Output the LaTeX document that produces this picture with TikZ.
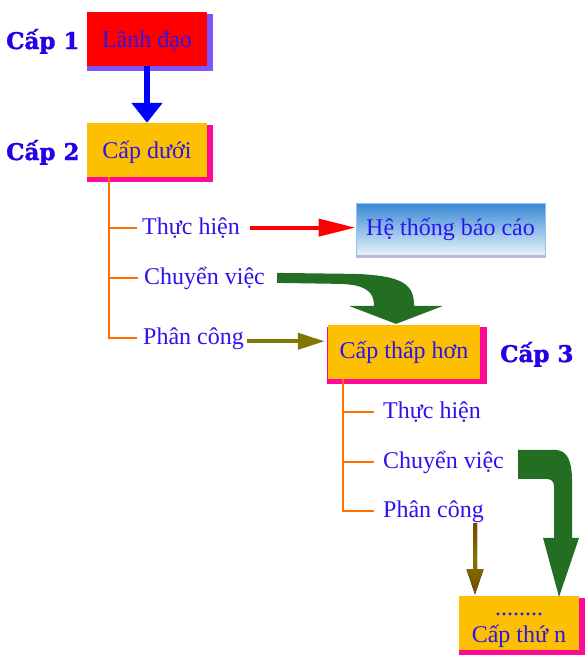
\documentclass[tikz,border=0pt]{standalone}
\usepackage{fontspec}
\setmainfont{Liberation Serif}
\newfontfamily\capfont[BoldFeatures={FakeBold=1.5}]{DejaVu Serif}
\usetikzlibrary{shadows,arrows.meta}
\definecolor{txtblue}{RGB}{45,20,235}
\definecolor{lvlblue}{RGB}{40,0,230}
\definecolor{boxyellow}{RGB}{252,192,0}
\definecolor{shadowmag}{RGB}{255,10,150}
\definecolor{shadowpur}{RGB}{125,85,255}
\definecolor{treeorange}{RGB}{255,110,0}
\definecolor{darkgreen}{RGB}{35,110,35}
\definecolor{olivearrow}{RGB}{128,120,0}
\definecolor{brownarrow}{RGB}{120,70,0}
\definecolor{repTop}{RGB}{55,135,212}
\definecolor{repBot}{RGB}{235,245,252}
\definecolor{repEdge}{RGB}{150,195,235}
\definecolor{lavender}{RGB}{195,178,225}
\begin{document}
\begin{tikzpicture}[x=1pt,y=-1pt,
  box/.style={rectangle, minimum width=120pt, minimum height=54pt, inner sep=0pt,
    text=txtblue, font=\fontsize{24}{27}\selectfont},
  oneline/.style={text height=17pt, text depth=5pt},
  lowline/.style={text height=20pt, text depth=4pt},
  yellowbox/.style={box, fill=boxyellow,
    drop shadow={shadow xshift=3pt, shadow yshift=-3.5pt, shadow scale=1.05,
      fill=shadowmag, opacity=1, rounded corners=2pt}},
  repbox/.style={box, oneline, minimum width=189pt, minimum height=53pt,
    top color=repTop, bottom color=repBot, draw=repEdge, line width=1pt},
  lvl/.style={font=\capfont\bfseries\fontsize{23}{26}\selectfont, text=lvlblue,
    anchor=base west, inner sep=0pt},
  item/.style={font=\fontsize{24}{27}\selectfont, text=txtblue, anchor=base west, inner sep=0pt},
  tree/.style={draw=treeorange, line width=2.2pt}]
\useasboundingbox[fill=white] (0,0) rectangle (588,665);

% level 1 and 2
\node[box, lowline, fill=red, drop shadow={shadow xshift=3pt, shadow yshift=-3.5pt,
  shadow scale=1.05, fill=shadowpur, opacity=1, rounded corners=2pt}] (lead) at (147,39) {Lãnh đạo};
\node[yellowbox, lowline] (sub) at (147,150) {Cấp dưới};
\node[lvl] (l1) at (6,49) {Cấp 1};
\node[lvl] (l2) at (6,160) {Cấp 2};
\draw[blue, line width=6pt, -{Triangle[width=30pt,length=20pt]}] (lead.south) -- (sub.north);

% first tree
\node[item] (t1) at (142,234) {Thực hiện};
\node[item] (c1) at (144,284) {Chuyển việc};
\node[item] (p1) at (143,344) {Phân công};
\draw[tree] ([xshift=22pt]sub.south west) |- ([xshift=-5pt]t1.west);
\draw[tree] ([xshift=22pt]sub.south west) |- ([xshift=-6pt]c1.west);
\draw[tree] ([xshift=22pt]sub.south west) |- ([xshift=-6pt]p1.west);

\node[repbox] (rep) at (450.5,229.5) {Hệ thống báo cáo};
\draw[lavender, line width=3pt] (rep.south west) -- (rep.south east);
\draw[red, line width=4pt, -{Triangle[width=17pt,length=37pt]}] ([xshift=10pt]t1.east) -- (t1.east -| rep.west);

\node[yellowbox, oneline, minimum width=152pt] (mid) at (404,352) {Cấp thấp hơn};
\node[lvl] (l3) at (500,362) {Cấp 3};

\fill[darkgreen, shift={([xshift=12pt]c1.east)}]
  (0,-5) -- (79,-4) .. controls (127,-2) and (137,7) .. (137,28) -- (166,28) -- (119,46)
  -- (72,28) -- (97,28) .. controls (97,14) and (89,7) .. (64,6) -- (0,5) -- cycle;

\draw[olivearrow, line width=4pt, -{Triangle[width=16pt,length=27pt]}]
  ([xshift=3pt,yshift=-3pt]p1.east) -- ([xshift=-3pt,yshift=-3pt]p1.east -| mid.west);

% second tree
\node[item] (t2) at (383,418) {Thực hiện};
\node[item] (c2) at (383,468) {Chuyển việc};
\node[item] (p2) at (383,517) {Phân công};
\draw[tree] ([xshift=15pt]mid.south west) |- ([xshift=-9pt]t2.west);
\draw[tree] ([xshift=15pt]mid.south west) |- ([xshift=-9pt]c2.west);
\draw[tree] ([xshift=15pt]mid.south west) |- ([xshift=-9pt]p2.west);

\node[yellowbox, align=center, text height=45pt, text depth=6pt] (last) at (519,622.5) {........\\Cấp thứ n};

\fill[top color=brownarrow, bottom color=brownarrow, middle color=olivearrow,
  shift={([xshift=92pt,yshift=-1pt]p2.south west)}]
  (-2,0) -- (2,0) -- (2,46) -- (8.5,46) -- (0,71) -- (-8.5,46) -- (-2,46) -- cycle;

\fill[darkgreen, shift={([xshift=14pt,yshift=-2pt]c2.east)}]
  (0,-14) -- (38,-14) .. controls (50,-13) and (54,-2) .. (54,18) -- (54,74) -- (61,74)
  -- (41,133) -- (25,74) -- (36,74) -- (36,23) .. controls (36,17) and (33,15) .. (28,15)
  -- (0,15) -- cycle;
\end{tikzpicture}
\end{document}
